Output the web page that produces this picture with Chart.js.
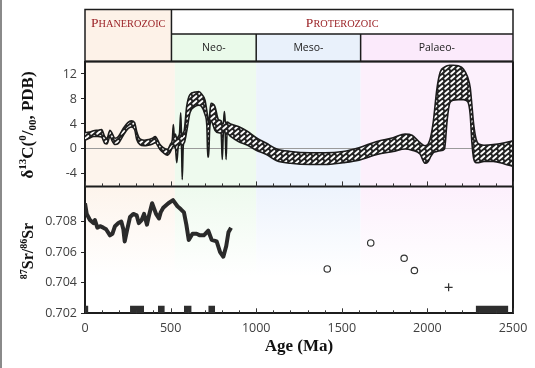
<!DOCTYPE html>
<html>
<head>
<meta charset="utf-8">
<script src="https://cdn.jsdelivr.net/npm/chart.js@4.4.1/dist/chart.umd.min.js"></script>
<style>
  html, body { margin: 0; padding: 0; background: #fff; }
  #wrap { width: 535px; height: 368px; }
</style>
</head>
<body>
<div id="wrap"><canvas id="chart" width="535" height="368"></canvas></div>
<script>
// carbon isotope envelope (Ma, per mil)
const cAge = [0, 25, 50, 75, 97, 115, 128, 146, 160, 175, 195, 224, 250, 270, 290, 302, 321, 345, 370, 395, 410, 438, 457, 481, 500, 510,
  516, 522, 528, 536, 545, 552, 559, 564, 568, 574, 580, 594, 613, 643, 665, 681, 701, 712, 717, 722, 728, 736, 759, 779, 795,
  802, 808, 814, 819, 824, 830, 850, 896, 950, 1000, 1060, 1120, 1200, 1314, 1400, 1507, 1600, 1705, 1800, 1870, 1910, 1957,
  1986, 2005, 2020, 2035, 2055, 2075, 2100, 2115, 2130, 2150, 2180, 2210, 2235, 2250, 2260, 2270, 2285, 2300, 2330, 2385, 2450, 2500];
const cUpper = [2.6, 2.7, 2.9, 3.0, 3.1, 2.0, 1.7, 3.0, 2.4, 1.7, 2.0, 3.3, 4.2, 4.5, 4.2, 2.8, 1.6, 1.4, 1.5, 1.7, 2.0, 0.7, 0.2, -0.1, 0.8, 1.5,
  3.9, 2.0, 2.4, 1.6, 2.0, 2.5, 5.8, 2.3, 2.0, 2.6, 3.0, 6.8, 8.7, 9.1, 9.2, 8.8, 7.8, 6.0, 5.0, 4.0, 5.5, 7.3, 6.8, 4.7, 4.5,
  4.0, 4.0, 6.0, 4.5, 4.2, 4.3, 4.0, 3.6, 2.8, 1.8, 0.9, 0.0, -0.4, -0.6, -0.6, -0.4, 0.2, 1.2, 1.8, 2.4, 2.2, 1.0,
  0.5, 0.8, 2.0, 4.5, 9.5, 12.3, 13.1, 13.3, 13.4, 13.4, 13.3, 12.8, 11.5, 9.8, 7.0, 4.0, 1.5, 0.8, 0.6, 0.7, 1.0, 1.3];
const cLower = [1.4, 1.7, 2.0, 2.0, 1.9, 0.9, 0.8, 2.0, 1.2, 0.7, 0.9, 2.2, 3.2, 3.5, 3.1, 1.5, 0.7, 0.5, 0.6, 0.8, 1.0, -0.1, -0.6, -1.0, -0.4, 0.2,
  0.5, 0.3, 0.2, -2.2, 0.4, 0.6, 1.0, 0.2, -4.9, 0.5, 1.0, 2.8, 5.8, 6.8, 7.0, 6.8, 5.5, 3.5, -1.3, -1.3, 3.0, 4.5, 3.0, 2.6, 2.5,
  -1.7, 2.5, 3.0, 2.5, -1.7, 2.5, 2.0, 1.2, 0.6, -0.2, -0.9, -1.9, -2.3, -2.5, -2.5, -2.2, -1.8, -0.9, -0.4, 0.0, -0.2, -0.8,
  -2.3, -2.0, -1.2, -0.6, -0.4, -0.3, 0.0, 4.5, 7.3, 7.8, 7.9, 7.9, 7.6, 5.5, 1.0, -1.5, -2.2, -2.2, -2.0, -2.0, -2.4, -2.8];

// strontium isotope curve
const srAge = [0, 10, 29, 49, 58, 72, 88, 107, 123, 146, 160, 175, 195, 212, 224, 232, 247, 263, 282, 302, 314, 331, 345, 362, 376, 392, 415, 432, 442, 457,
  487, 514, 540, 560, 578, 592, 606, 628, 652, 671, 694, 720, 740, 769, 789, 808, 825, 838, 853];
const srValue = [0.7092, 0.7085, 0.7081, 0.7079, 0.7081, 0.7076, 0.7077, 0.7076, 0.7075, 0.7071, 0.7072, 0.7077, 0.7079, 0.7080, 0.7075, 0.7067, 0.7075, 0.7083, 0.7085, 0.7084, 0.7079, 0.7081, 0.7085, 0.7078, 0.7085, 0.7092, 0.7085, 0.7082, 0.7086, 0.7089,
  0.7092, 0.7094, 0.7090, 0.7088, 0.7086, 0.7078, 0.7068, 0.7072, 0.7072, 0.7071, 0.7071, 0.7074, 0.7068, 0.7067, 0.7060, 0.7057, 0.7064, 0.7073, 0.7076];
const circleAge = [1415, 1669, 1864, 1924];
const circleValue = [0.7049, 0.7066, 0.7056, 0.7048];
const crossAge = [2124];
const crossValue = [0.7037];

// glaciations
const glacialStart = [0, 263, 426, 578, 720, 2282];
const glacialEnd = [20, 345, 466, 623, 760, 2473];
const glacialTop = 0.7025;

// axes and time scale
const xTicks = [0, 500, 1000, 1500, 2000, 2500];
const cTicks = [-4, 0, 4, 8, 12];
const srTicks = [0.702, 0.704, 0.706, 0.708];
const eras = ['Phanerozoic', 'Proterozoic'];
const eraBounds = [0, 505, 2500];
const periods = ['Neo-', 'Meso-', 'Palaeo-'];
const periodBounds = [505, 1000, 1610, 2500];
const bandBounds = [0, 525, 1000, 1610, 2500];

const bandColors = ['#fdf4ec', '#eefaee', '#edf3fc', '#fcf0fc'];
const cellColors = ['#fdf2e8', '#eafaea', '#e9f1fb', '#fbeafb'];
const ink = '#1c1c1c';
const red = '#9b2226';

function hatch() {
  const p = document.createElement('canvas');
  p.width = 6; p.height = 5;
  const g = p.getContext('2d');
  g.fillStyle = '#222';
  g.fillRect(0, 0, 6, 5);
  g.strokeStyle = '#fff';
  g.lineWidth = 1.8;
  g.lineCap = 'round';
  g.beginPath(); g.moveTo(1.2, 3.8); g.lineTo(4.4, 1.0); g.stroke();
  return g.createPattern(p, 'repeat');
}

function drawRuns(ctx, runs, cx, cy, rotate) {
  let w = 0;
  runs.forEach(r => { ctx.font = r.font; r.w = ctx.measureText(r.t).width; w += r.w; });
  ctx.save();
  ctx.translate(cx, cy);
  if (rotate) ctx.rotate(-Math.PI / 2);
  ctx.textAlign = 'left';
  ctx.textBaseline = 'alphabetic';
  let x = -w / 2;
  runs.forEach(r => { ctx.font = r.font; ctx.fillText(r.t, x, r.dy || 0); x += r.w; });
  ctx.restore();
}

function smallCaps(word, big, small) {
  return [
    { t: word[0].toUpperCase(), font: big + 'px "Liberation Serif"' },
    { t: word.slice(1).toUpperCase(), font: small + 'px "Liberation Serif"' }
  ];
}

const bands = {
  id: 'bands',
  beforeDraw(chart) {
    const { ctx, scales: { x, yC, ySr } } = chart;
    ctx.save();
    for (let i = 0; i < bandColors.length; i++) {
      const l = x.getPixelForValue(bandBounds[i]);
      const r = x.getPixelForValue(bandBounds[i + 1]);
      ctx.fillStyle = bandColors[i];
      ctx.fillRect(l, yC.top, r - l, yC.bottom - yC.top);
      const g = ctx.createLinearGradient(0, ySr.top, 0, ySr.top + 90);
      g.addColorStop(0, bandColors[i]);
      g.addColorStop(1, '#ffffff');
      ctx.fillStyle = g;
      ctx.fillRect(l, ySr.top, r - l, ySr.bottom - ySr.top);
    }
    ctx.restore();
  }
};

const frame = {
  id: 'frame',
  afterDraw(chart) {
    const { ctx, chartArea: a, scales: { x, yC, ySr } } = chart;
    const top = 9.5, mid = 34;
    ctx.save();

    // header cells
    const e0 = x.getPixelForValue(eraBounds[0]), e1 = x.getPixelForValue(eraBounds[1]), e2 = x.getPixelForValue(eraBounds[2]);
    ctx.fillStyle = cellColors[0];
    ctx.fillRect(e0, top, e1 - e0, a.top - top);
    ctx.fillStyle = '#fff';
    ctx.fillRect(e1, top, e2 - e1, mid - top);
    for (let i = 0; i < periods.length; i++) {
      const l = x.getPixelForValue(periodBounds[i]), r = x.getPixelForValue(periodBounds[i + 1]);
      ctx.fillStyle = cellColors[i + 1];
      ctx.fillRect(l, mid, r - l, a.top - mid);
    }
    ctx.strokeStyle = ink;
    ctx.lineWidth = 1.5;
    ctx.strokeRect(e0, top, e2 - e0, a.top - top);
    ctx.beginPath();
    ctx.moveTo(e1, top); ctx.lineTo(e1, a.top);
    ctx.moveTo(e1, mid); ctx.lineTo(e2, mid);
    for (let i = 1; i < periods.length; i++) {
      const px = x.getPixelForValue(periodBounds[i]);
      ctx.moveTo(px, mid); ctx.lineTo(px, a.top);
    }
    ctx.stroke();

    ctx.fillStyle = red;
    drawRuns(ctx, smallCaps(eras[0], 13.5, 10.3), (e0 + e1) / 2, 27, false);
    drawRuns(ctx, smallCaps(eras[1], 13.5, 10.3), (e1 + e2) / 2, 27, false);
    ctx.fillStyle = '#222';
    ctx.font = '10.5px "Open Sans"';
    ctx.textAlign = 'center';
    ctx.textBaseline = 'middle';
    for (let i = 0; i < periods.length; i++) {
      const l = x.getPixelForValue(periodBounds[i]), r = x.getPixelForValue(periodBounds[i + 1]);
      ctx.fillText(periods[i], (l + r) / 2, (mid + a.top) / 2 + 0.5);
    }

    // plot frame
    ctx.strokeStyle = ink;
    ctx.lineWidth = 2;
    ctx.beginPath();
    ctx.moveTo(a.left, a.top); ctx.lineTo(a.right, a.top);
    ctx.moveTo(a.right, a.top); ctx.lineTo(a.right, a.bottom);
    ctx.moveTo(a.left, yC.bottom); ctx.lineTo(a.right, yC.bottom);
    ctx.stroke();

    // inward age ticks
    ctx.lineWidth = 1;
    ctx.strokeStyle = '#333';
    ctx.beginPath();
    for (let v = 0; v <= 2500; v += 100) {
      const px = Math.round(x.getPixelForValue(v)) + 0.5;
      const len = v % 500 === 0 ? 5 : 3;
      ctx.moveTo(px, ySr.bottom); ctx.lineTo(px, ySr.bottom - len);
      ctx.moveTo(px, yC.bottom); ctx.lineTo(px, yC.bottom - len);
    }
    ctx.stroke();

    // axis titles
    ctx.fillStyle = '#111';
    const B = 'bold 17px "Liberation Serif"', b = 'bold 11px "Liberation Serif"';
    drawRuns(ctx, [
      { t: 'δ', font: B }, { t: '13', font: b, dy: -7 }, { t: 'C(', font: B },
      { t: '0', font: b, dy: -7 }, { t: '/', font: B }, { t: '00', font: b, dy: 3 }, { t: ', PDB)', font: B }
    ], 32.5, 125, true);
    const S = '600 16px "Liberation Serif"', s = '600 10px "Liberation Serif"';
    drawRuns(ctx, [
      { t: '87', font: s, dy: -6 }, { t: 'Sr/', font: S }, { t: '86', font: s, dy: -6 }, { t: 'Sr', font: S }
    ], 33, 251, true);
    drawRuns(ctx, [{ t: 'Age (Ma)', font: B }], (a.left + a.right) / 2, 351, false);

    // figure edge
    ctx.fillStyle = '#8a8a8a';
    ctx.fillRect(0, 0, 2, 368);
    ctx.restore();
  }
};

const pts = (xs, ys) => xs.map((v, i) => ({ x: v, y: ys[i] }));
const pattern = hatch();

const datasets = [
  { data: pts(cAge, cUpper), yAxisID: 'yC', borderColor: ink, borderWidth: 1.6, pointRadius: 0, fill: false, cubicInterpolationMode: 'monotone' },
  { data: pts(cAge, cLower), yAxisID: 'yC', borderColor: ink, borderWidth: 1.6, pointRadius: 0, fill: '-1', backgroundColor: pattern, cubicInterpolationMode: 'monotone' },
  { data: pts(srAge, srValue), yAxisID: 'ySr', borderColor: '#2a2a2a', borderWidth: 4, pointRadius: 0, fill: false, tension: 0, borderJoinStyle: 'round' },
  { type: 'scatter', data: pts(circleAge, circleValue), yAxisID: 'ySr', pointStyle: 'circle', pointRadius: 3.2, borderColor: '#333', borderWidth: 1.2, backgroundColor: '#fff' },
  { type: 'scatter', data: pts(crossAge, crossValue), yAxisID: 'ySr', pointStyle: 'cross', pointRadius: 4, borderColor: '#333', borderWidth: 1.2 }
];
glacialStart.forEach((s, i) => {
  datasets.push({
    data: [{ x: s, y: glacialTop }, { x: glacialEnd[i], y: glacialTop }],
    yAxisID: 'ySr', borderWidth: 0, pointRadius: 0, backgroundColor: '#2e2e2e', fill: { value: srTicks[0] }
  });
});

const tickFont = { family: 'Open Sans', size: 12.5 };

new Chart(document.getElementById('chart'), {
  type: 'line',
  data: { datasets },
  options: {
    responsive: false,
    animation: false,
    layout: { padding: { top: 61.5, right: 22, left: 0, bottom: 0 } },
    plugins: { legend: { display: false }, tooltip: { enabled: false } },
    scales: {
      x: {
        type: 'linear', position: 'bottom', min: 0, max: 2500,
        afterBuildTicks: s => { s.ticks = xTicks.map(v => ({ value: v })); },
        afterFit: s => { s.height = 54.7; },
        ticks: { font: tickFont, color: '#404040', padding: 0, maxRotation: 0, callback: v => String(v) },
        grid: { display: false },
        border: { display: true, color: ink, width: 2 }
      },
      yC: {
        type: 'linear', position: 'left', stack: 'panels', stackWeight: 125, weight: 1, min: -6, max: 14,
        afterBuildTicks: s => { s.ticks = cTicks.map(v => ({ value: v })); },
        afterFit: s => { s.width = 85; },
        ticks: { font: tickFont, color: '#404040', padding: 4 },
        grid: { drawOnChartArea: true, color: c => (c.tick && c.tick.value === 0 ? '#9a9a9a' : 'rgba(0,0,0,0)'), tickColor: '#222', tickLength: 4, lineWidth: 1 },
        border: { display: true, color: ink, width: 2 }
      },
      ySr: {
        type: 'linear', position: 'left', stack: 'panels', stackWeight: 127, weight: 0, min: 0.702, max: 0.7103,
        afterBuildTicks: s => { s.ticks = srTicks.map(v => ({ value: v })); },
        afterFit: s => { s.width = 85; },
        ticks: { font: tickFont, color: '#404040', padding: 4, callback: v => v.toFixed(3) },
        grid: { drawOnChartArea: false, tickColor: '#222', tickLength: 4 },
        border: { display: true, color: ink, width: 2 }
      }
    }
  },
  plugins: [bands, frame]
});
</script>
</body>
</html>
